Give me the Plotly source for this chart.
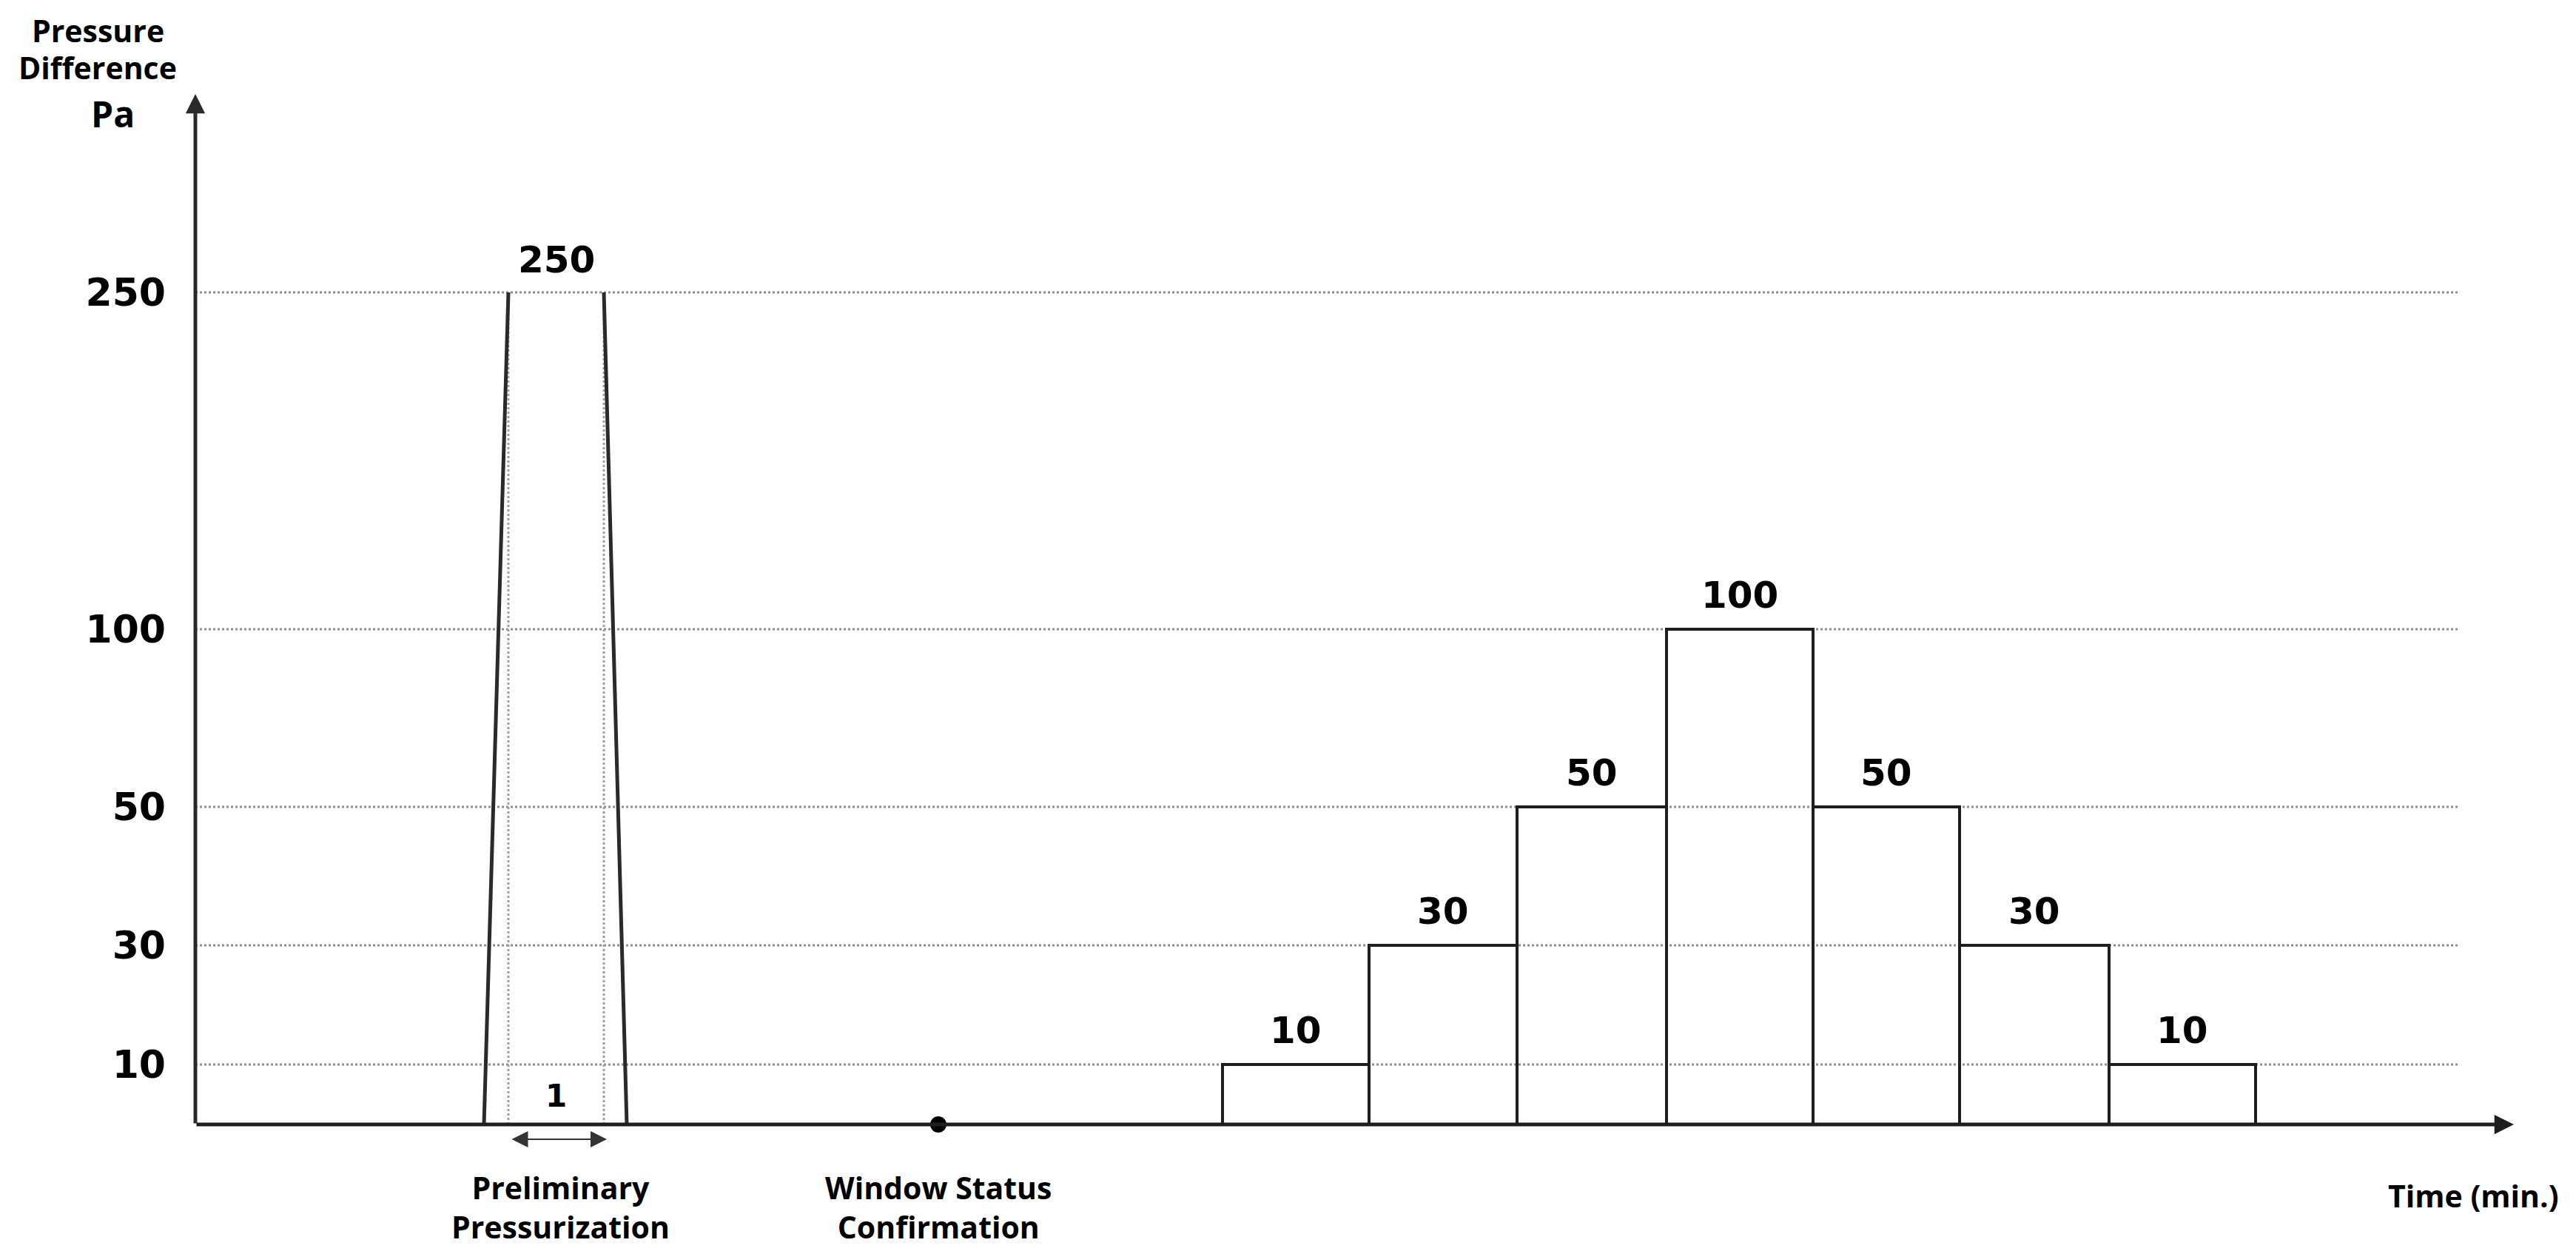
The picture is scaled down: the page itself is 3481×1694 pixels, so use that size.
import numpy as np
import plotly.graph_objects as go

# pressure levels (Pa) shown on the axis
PA_TICKS = [10, 30, 50, 100, 250]

# stepped test: edges of each step (min.) and the pressure held
STEP_EDGES = [6.94, 7.93, 8.93, 9.94, 10.93, 11.92, 12.93, 13.92]
STEP_PA = [10, 30, 50, 100, 50, 30, 10]

# preliminary pressurization ramp up / hold / ramp down
PRELIM_TIME = [1.95, 2.115, 2.76, 2.915]
PRELIM_PA = [0, 250, 250, 0]
PRELIM_HOLD = 1

WINDOW_CHECK_TIME = 5.02

# the schematic uses an uneven pressure scale; this maps Pa onto it
SCALE_PA = [0, 10, 30, 50, 100, 250]
SCALE_POS = [0, 81, 242, 429, 669, 1124]


def to_axis(pa):
    return np.interp(pa, SCALE_PA, SCALE_POS)


TEXT_FONT = dict(family="Open Sans", size=41, color="black", weight="bold")
NUM_FONT = dict(family="DejaVu Sans", size=50, color="black", weight="bold")
LINE = "#1e1e1e"
GRID = "#8e8e8e"

X_END = 15.665
GRID_END = 15.3
Y_TOP = 1392

# page body adds an 8px offset, the plot origin sits at 256/1511 inside the figure
ORIGIN_X = 256
ORIGIN_Y = 1511
UNIT = 200

fig = go.Figure()

# stepped pressure boxes
edges = np.array(STEP_EDGES)
fig.add_trace(go.Bar(
    x=(edges[:-1] + edges[1:]) / 2,
    y=to_axis(STEP_PA),
    width=np.diff(edges),
    marker=dict(color="rgba(0,0,0,0)", line=dict(color=LINE, width=4)),
    hoverinfo="skip",
))

# preliminary pressurization ramps
fig.add_trace(go.Scatter(
    x=[PRELIM_TIME[0], PRELIM_TIME[1], None, PRELIM_TIME[2], PRELIM_TIME[3]],
    y=[0, to_axis(PRELIM_PA[1]), None, to_axis(PRELIM_PA[2]), 0],
    mode="lines", line=dict(color="#2a2a2a", width=5), hoverinfo="skip",
))

# window status check point
fig.add_trace(go.Scatter(
    x=[WINDOW_CHECK_TIME], y=[0], mode="markers",
    marker=dict(color="black", size=22), hoverinfo="skip",
))

# dotted level lines
for pa in PA_TICKS:
    fig.add_shape(type="line", x0=0, x1=GRID_END, y0=to_axis(pa), y1=to_axis(pa),
                  line=dict(color=GRID, width=3, dash="dot"), layer="below")
for t in PRELIM_TIME[1:3]:
    fig.add_shape(type="line", x0=t, x1=t, y0=0, y1=to_axis(250),
                  line=dict(color="#a0a0a0", width=3, dash="dot"), layer="below")

ann = []
# axes with arrowheads
ann.append(dict(x=0, y=Y_TOP, ax=0, ay=0, axref="x", ayref="y", text="",
                showarrow=True, arrowhead=2, arrowsize=1.05, arrowwidth=5,
                arrowcolor="#2a2a2a", standoff=0))
ann.append(dict(x=X_END, y=0, ax=0, ay=0, axref="x", ayref="y", text="",
                showarrow=True, arrowhead=2, arrowsize=1.05, arrowwidth=5,
                arrowcolor=LINE, standoff=0))

# value labels above the steps
centers = (edges[:-1] + edges[1:]) / 2
for c, pa in zip(centers, STEP_PA):
    ann.append(dict(x=c, y=to_axis(pa) + 46, text=str(pa), showarrow=False,
                    font=NUM_FONT, yanchor="middle"))
ann.append(dict(x=np.mean(PRELIM_TIME[1:3]), y=to_axis(PRELIM_PA[1]) + 44,
                text=str(PRELIM_PA[1]), showarrow=False, font=NUM_FONT, yanchor="middle"))

# hold duration of the preliminary pressurization
ann.append(dict(x=np.mean(PRELIM_TIME[1:3]), y=39, text=str(PRELIM_HOLD), showarrow=False,
                font=dict(family="DejaVu Sans", size=42, color="black", weight="bold"),
                yanchor="middle"))
ann.append(dict(x=PRELIM_TIME[2] + 0.02, y=-20, ax=PRELIM_TIME[1] + 0.015, ay=-20,
                axref="x", ayref="y", text="", showarrow=True,
                arrowhead=2, startarrowhead=2, arrowside="end+start",
                arrowsize=2.2, startarrowsize=2.2, arrowwidth=2,
                arrowcolor="#333333", standoff=0, startstandoff=0))

# axis titles and phase names
ann.append(dict(x=-0.66, y=1478, text="Pressure", showarrow=False, font=TEXT_FONT))
ann.append(dict(x=-0.66, y=1428, text="Difference", showarrow=False, font=TEXT_FONT))
ann.append(dict(x=-0.56, y=1366, text="Pa", showarrow=False,
                font=dict(family="Open Sans", size=48, color="black", weight="bold")))
ann.append(dict(x=2.465, y=-111, text="Preliminary<br>Pressurization", showarrow=False,
                font=TEXT_FONT))
ann.append(dict(x=WINDOW_CHECK_TIME, y=-111, text="Window Status<br>Confirmation",
                showarrow=False, font=TEXT_FONT))
ann.append(dict(x=15.39, y=-96, text="Time (min.)", showarrow=False, font=TEXT_FONT))

fig.update_layout(
    width=3481, height=1694, autosize=False,
    margin=dict(l=0, r=0, t=0, b=0),
    paper_bgcolor="white", plot_bgcolor="white",
    showlegend=False,
    annotations=ann,
    xaxis=dict(range=[-ORIGIN_X / UNIT, (3481 - ORIGIN_X) / UNIT], visible=False, fixedrange=True),
    yaxis=dict(
        range=[-(1694 - ORIGIN_Y), ORIGIN_Y], anchor="free", position=ORIGIN_X / 3481,
        tickvals=to_axis(PA_TICKS), ticktext=[str(v) for v in PA_TICKS],
        tickfont=dict(family="DejaVu Sans", size=52, color="black", weight="bold"),
        ticks="", ticklabelstandoff=40,
        showgrid=False, zeroline=False, showline=False, fixedrange=True,
    ),
)

fig.write_html("out.html")
